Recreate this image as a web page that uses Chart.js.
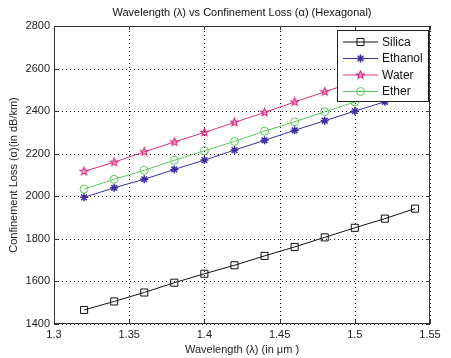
<!DOCTYPE html>
<html>
<head>
<meta charset="utf-8">
<script src="https://cdn.jsdelivr.net/npm/chart.js@4/dist/chart.umd.min.js"></script>
<style>
html,body{margin:0;padding:0;background:#fff;}
#wrap{width:451px;height:358px;}
</style>
</head>
<body>
<div id="wrap"><canvas id="c" width="451" height="358"></canvas></div>
<script>
const wavelengths = [1.32,1.34,1.36,1.38,1.40,1.42,1.44,1.46,1.48,1.50,1.52,1.54];
const silica  = [1466,1506,1548,1594,1636,1676,1720,1762,1807,1852,1895,1942];
const ethanol = [1995,2040,2080,2126,2170,2217,2263,2310,2355,2400,2444,2490];
const water   = [2117,2160,2209,2255,2300,2347,2394,2443,2491,2538,2585,2632];
const ether   = [2034,2080,2122,2169,2214,2258,2306,2350,2397,2443,2488,2533];
const xTicks = [1.3,1.35,1.4,1.45,1.5,1.55];
const xTickLabels = ['1.3','1.35','1.4','1.45','1.5','1.55'];
const yTicks = [1400,1600,1800,2000,2200,2400,2600,2800];
const yTickLabels = ['1400','1600','1800','2000','2200','2400','2600','2800'];
const seriesNames = ['Silica','Ethanol','Water','Ether'];
const titleText = 'Wavelength (λ) vs Confinement Loss (α) (Hexagonal)';
const xTitle = 'Wavelength (λ) (in μm )';
const yTitle = 'Confinement Loss (α)(in dB/km)';

const FONT = '"Liberation Sans", Arial, sans-serif';

function pentagram(color, r){
  const s = Math.ceil(r*2+3);
  const c = document.createElement('canvas');
  c.width = s; c.height = s;
  const g = c.getContext('2d');
  g.beginPath();
  for(let i=0;i<10;i++){
    const a = -Math.PI/2 + i*Math.PI/5;
    const rr = (i%2) ? r*0.45 : r;
    g.lineTo(s/2 + rr*Math.cos(a), s/2 + rr*Math.sin(a));
  }
  g.closePath();
  g.strokeStyle = color; g.lineWidth = 1.3; g.stroke();
  return c;
}

const colors = ['#111111','#3b2f9c','#d8307f','#5ccc5c'];
const starImg = pentagram(colors[2], 4);
const styles = ['rect','star',starImg,'circle'];
const radii = [5,4,4,4];
const allData = [silica, ethanol, water, ether];

const datasets = allData.map((arr,i)=>({
  label: seriesNames[i],
  data: arr.map((v,j)=>({x:wavelengths[j], y:v})),
  borderColor: colors[i],
  backgroundColor: 'rgba(0,0,0,0)',
  borderWidth: 1,
  pointStyle: styles[i],
  pointRadius: radii[i],
  pointBorderColor: colors[i],
  pointBorderWidth: i===1 ? 1.5 : 1,
  pointBackgroundColor: 'rgba(0,0,0,0)',
  tension: 0
}));

function drawMarker(ctx, style, x, y, r, color, lw){
  if (Chart.helpers && Chart.helpers.drawPoint) {
    ctx.save();
    ctx.strokeStyle = color; ctx.fillStyle = 'rgba(0,0,0,0)'; ctx.lineWidth = lw;
    Chart.helpers.drawPoint(ctx, {pointStyle: style, radius: r, rotation: 0, borderWidth: lw}, x, y);
    ctx.restore();
    return;
  }
  ctx.save(); ctx.strokeStyle = color; ctx.lineWidth = lw;
  if (style instanceof HTMLCanvasElement) {
    ctx.drawImage(style, x - style.width/2, y - style.height/2);
  } else if (style === 'rect') {
    const s = r*Math.SQRT1_2; ctx.strokeRect(x-s,y-s,2*s,2*s);
  } else if (style === 'circle') {
    ctx.beginPath(); ctx.arc(x,y,r,0,Math.PI*2); ctx.stroke();
  } else {
    ctx.beginPath();
    ctx.moveTo(x-r,y); ctx.lineTo(x+r,y); ctx.moveTo(x,y-r); ctx.lineTo(x,y+r);
    const d=r*Math.SQRT1_2;
    ctx.moveTo(x-d,y-d); ctx.lineTo(x+d,y+d); ctx.moveTo(x-d,y+d); ctx.lineTo(x+d,y-d);
    ctx.stroke();
  }
  ctx.restore();
}

const gridPlugin = {
  id: 'dotgrid',
  beforeDatasetsDraw(chart){
    const ctx = chart.ctx;
    const a = chart.chartArea;
    const xs = chart.scales.x, ys = chart.scales.y;
    ctx.save();
    ctx.strokeStyle = '#000'; ctx.lineWidth = 1;
    ctx.setLineDash([1,3]);
    xTicks.forEach(v=>{
      const px = Math.round(xs.getPixelForValue(v))+0.5;
      ctx.beginPath(); ctx.moveTo(px, a.bottom); ctx.lineTo(px, a.top); ctx.stroke();
    });
    yTicks.forEach(v=>{
      const py = Math.round(ys.getPixelForValue(v))+0.5;
      ctx.beginPath(); ctx.moveTo(a.left, py); ctx.lineTo(a.right, py); ctx.stroke();
    });
    ctx.restore();
  }
};

const framePlugin = {
  id: 'frame',
  afterDatasetsDraw(chart){
    const ctx = chart.ctx;
    const a = chart.chartArea;
    const xs = chart.scales.x, ys = chart.scales.y;
    ctx.save();
    ctx.strokeStyle = '#333'; ctx.lineWidth = 1;
    ctx.beginPath();
    xTicks.forEach(v=>{
      const px = Math.round(xs.getPixelForValue(v))+0.5;
      ctx.moveTo(px, a.bottom); ctx.lineTo(px, a.bottom-4);
      ctx.moveTo(px, a.top); ctx.lineTo(px, a.top+4);
    });
    yTicks.forEach(v=>{
      const py = Math.round(ys.getPixelForValue(v))+0.5;
      ctx.moveTo(a.left, py); ctx.lineTo(a.left+4, py);
      ctx.moveTo(a.right, py); ctx.lineTo(a.right-4, py);
    });
    ctx.stroke();
    const lx = 337, ly = 30, lw = 91, lh = 71;
    ctx.fillStyle = '#fff';
    ctx.fillRect(lx, ly, lw, lh);
    ctx.strokeStyle = '#222'; ctx.lineWidth = 1;
    ctx.strokeRect(lx+0.5, ly+0.5, lw, lh);
    ctx.font = '12px ' + FONT;
    ctx.textBaseline = 'middle'; ctx.textAlign = 'left';
    chart.data.datasets.forEach((ds,i)=>{
      const y = ly + 12 + i*16.5;
      ctx.strokeStyle = ds.borderColor; ctx.lineWidth = 1;
      ctx.beginPath(); ctx.moveTo(lx+6, y); ctx.lineTo(lx+41, y); ctx.stroke();
      drawMarker(ctx, ds.pointStyle, lx+23.5, y, ds.pointRadius, ds.borderColor, ds.pointBorderWidth);
      ctx.fillStyle = '#111';
      ctx.fillText(ds.label, lx+45, y+0.5);
    });
    ctx.strokeStyle = '#333'; ctx.lineWidth = 1;
    ctx.strokeRect(Math.round(a.left)+0.5, Math.round(a.top)+0.5, Math.round(a.right-a.left)-1, Math.round(a.bottom-a.top)-1);
    ctx.fillStyle = '#111';
    ctx.font = '11px ' + FONT;
    ctx.textAlign = 'center'; ctx.textBaseline = 'middle';
    ctx.fillText(titleText, (a.left+a.right)/2, 13);
    ctx.restore();
  }
};

new Chart(document.getElementById('c'), {
  type: 'line',
  data: { datasets },
  options: {
    responsive: false,
    animation: false,
    devicePixelRatio: 1,
    layout: { padding: { left: 0, right: 21, top: 26, bottom: 0 } },
    plugins: { legend: { display: false }, title: { display: false }, tooltip: { enabled: false } },
    scales: {
      x: {
        type: 'linear', min: 1.3, max: 1.55,
        afterBuildTicks(s){ s.ticks = xTicks.map(v=>({value:v})); },
        afterFit(s){ s.height = 34; },
        ticks: { callback: (v,i)=>xTickLabels[i], color: '#222', font: { family: FONT, size: 11 }, padding: 4, maxRotation: 0, autoSkip: false },
        grid: { display: true, drawOnChartArea: false, drawTicks: false, color: 'rgba(0,0,0,0)' },
        border: { display: false },
        title: { display: true, text: xTitle, color: '#222', font: { family: FONT, size: 11 }, padding: { top: 0, bottom: 1 } }
      },
      y: {
        type: 'linear', min: 1400, max: 2800,
        afterBuildTicks(s){ s.ticks = yTicks.map(v=>({value:v})); },
        afterFit(s){ s.width = 54; },
        ticks: { callback: (v,i)=>yTickLabels[i], color: '#222', font: { family: FONT, size: 11 }, padding: 4, autoSkip: false },
        grid: { display: true, drawOnChartArea: false, drawTicks: false, color: 'rgba(0,0,0,0)' },
        border: { display: false },
        title: { display: true, text: yTitle, color: '#222', font: { family: FONT, size: 11 }, padding: { top: 7, bottom: 0 } }
      }
    }
  },
  plugins: [gridPlugin, framePlugin]
});
</script>
</body>
</html>
